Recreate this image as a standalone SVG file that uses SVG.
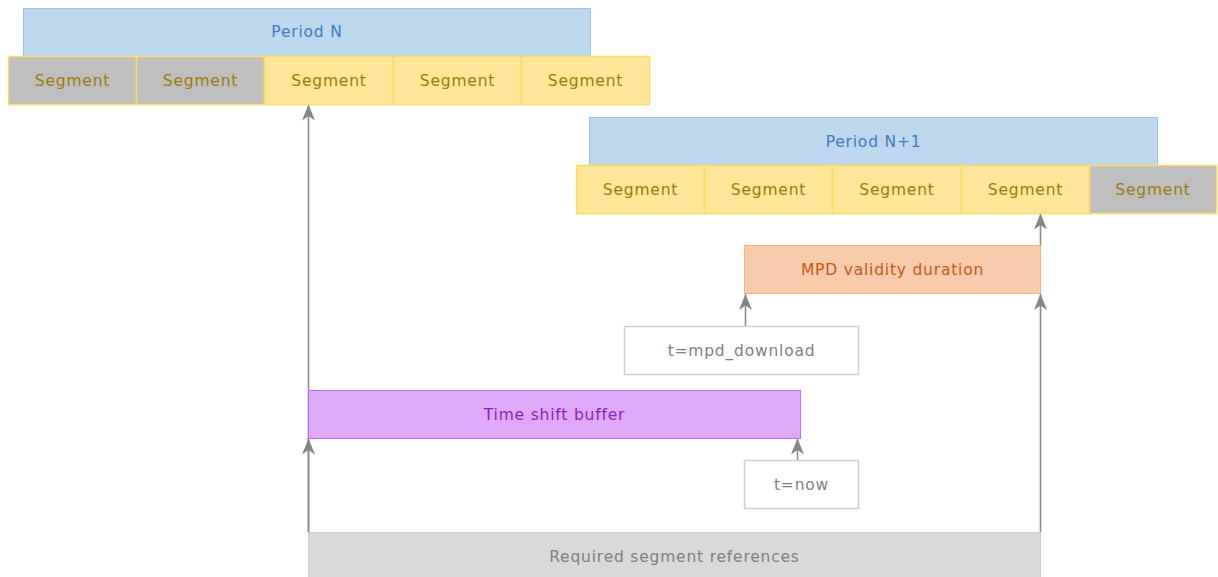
<svg xmlns="http://www.w3.org/2000/svg" width="1218" height="577" viewBox="0 0 1218 577">
  <style>
    text { font-family: "DejaVu Sans", "Liberation Sans", sans-serif; font-size: 15.5px; letter-spacing: 0.8px; text-anchor: middle; dominant-baseline: central; }
    .period rect { fill: #bdd7ee; stroke: #9dc3e6; stroke-width: 1; }
    .period text { fill: #3c7dc4; }
    .seg rect { fill: #ffe699; stroke: #ffd966; stroke-width: 1.5; }
    .seg.old rect { fill: #bfbfbf; }
    .seg text { fill: #9c7b0c; }
    .mpd rect { fill: #f8cbad; stroke: #f4b183; stroke-width: 1; }
    .mpd text { fill: #c55a11; }
    .tsb rect { fill: #dfa9fa; stroke: #cc66ff; stroke-width: 1; }
    .tsb text { fill: #8a1dc0; }
    .plain rect { fill: #ffffff; stroke: #d0d0d0; stroke-width: 1.5; }
    .plain text { fill: #7f7f7f; }
    .req rect { fill: #d9d9d9; stroke: #cfcfcf; stroke-width: 1; }
    .req text { fill: #7f7f7f; }
    .conn path { fill: none; stroke: #8c8c8c; stroke-width: 1.6; }
  </style>
  <defs>
    <!-- notched arrowhead, tip at the end of the line -->
    <marker id="arrow" viewBox="0 0 16 14" refX="16" refY="7" markerWidth="16" markerHeight="14" markerUnits="userSpaceOnUse" orient="auto">
      <path d="M0,0.5 L16,7 L0,13.5 L4.5,7 Z" fill="#858585"/>
    </marker>
  </defs>

  <!-- connectors -->
  <g id="connectors" class="conn">
    <path d="M308.5,532 V104.5" marker-end="url(#arrow)"/>
    <path d="M308.5,532 V438.5" marker-end="url(#arrow)"/>
    <path d="M1040.5,532 V294" marker-end="url(#arrow)"/>
    <path d="M1040.5,245 V213.5" marker-end="url(#arrow)"/>
    <path d="M745.5,326 V294" marker-end="url(#arrow)"/>
    <path d="M797.5,460 V438.5" marker-end="url(#arrow)"/>
  </g>

  <!-- Period N -->
  <g id="periodN" class="period"><rect x="23.5" y="8.5" width="567" height="48"/><text x="307" y="32">Period N</text></g>
  <g id="segN1" class="seg old"><rect x="8.5" y="56.5" width="128" height="48"/><text x="72.5" y="80.5">Segment</text></g>
  <g id="segN2" class="seg old"><rect x="136.5" y="56.5" width="128" height="48"/><text x="200.5" y="80.5">Segment</text></g>
  <g id="segN3" class="seg"><rect x="264.5" y="56.5" width="129" height="48"/><text x="329" y="80.5">Segment</text></g>
  <g id="segN4" class="seg"><rect x="393.5" y="56.5" width="128" height="48"/><text x="457.5" y="80.5">Segment</text></g>
  <g id="segN5" class="seg"><rect x="521.5" y="56.5" width="128" height="48"/><text x="585.5" y="80.5">Segment</text></g>

  <!-- Period N+1 -->
  <g id="periodN1" class="period"><rect x="589.5" y="117.5" width="568" height="48"/><text x="873.5" y="141.5">Period N+1</text></g>
  <g id="segM1" class="seg"><rect x="576.5" y="165.5" width="128" height="48"/><text x="640.5" y="189.5">Segment</text></g>
  <g id="segM2" class="seg"><rect x="704.5" y="165.5" width="128" height="48"/><text x="768.5" y="189.5">Segment</text></g>
  <g id="segM3" class="seg"><rect x="832.5" y="165.5" width="129" height="48"/><text x="897" y="189.5">Segment</text></g>
  <g id="segM4" class="seg"><rect x="961.5" y="165.5" width="128" height="48"/><text x="1025.5" y="189.5">Segment</text></g>
  <g id="segM5" class="seg old"><rect x="1089.5" y="165.5" width="127" height="48"/><text x="1153" y="189.5">Segment</text></g>

  <!-- timing boxes -->
  <g id="mpdValidity" class="mpd"><rect x="744.5" y="245.5" width="296" height="48"/><text x="892.5" y="269.5">MPD validity duration</text></g>
  <g id="mpdDownload" class="plain"><rect x="624.5" y="326.5" width="234" height="48"/><text x="741.5" y="350.5">t=mpd_download</text></g>
  <g id="timeShift" class="tsb"><rect x="308.5" y="390.5" width="492" height="48"/><text x="554.5" y="414.5">Time shift buffer</text></g>
  <g id="now" class="plain"><rect x="744.5" y="460.5" width="114" height="48"/><text x="801.5" y="484.5">t=now</text></g>
  <g id="required" class="req"><rect x="308.5" y="532.5" width="732" height="48"/><text x="674.5" y="556.5">Required segment references</text></g>
</svg>
